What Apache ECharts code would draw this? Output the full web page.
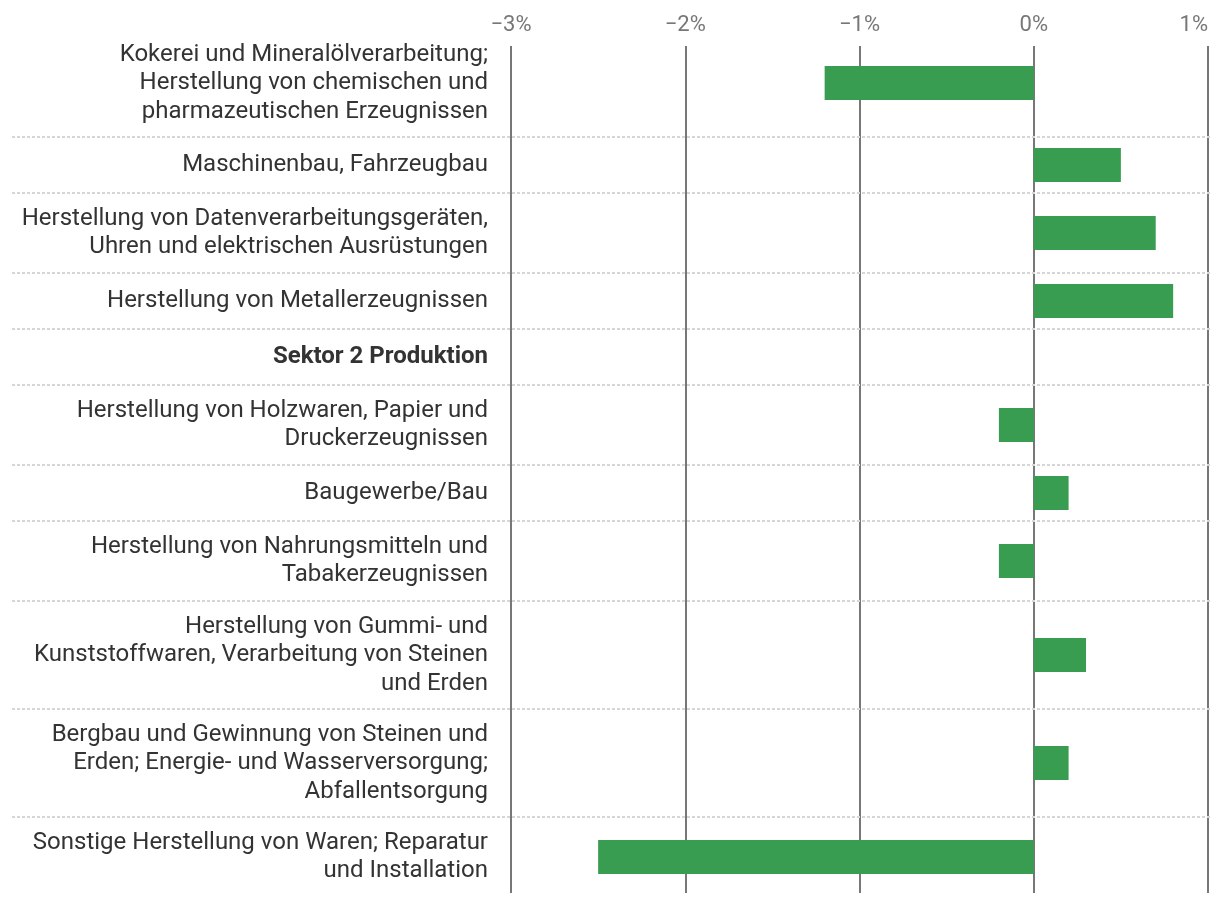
<!DOCTYPE html>
<html>
<head>
<meta charset="utf-8">
<title>Sektor 2 Produktion</title>
<script src="https://cdn.jsdelivr.net/npm/echarts@6/dist/echarts.min.js"></script>
<style>
  html, body { margin: 0; padding: 0; background: #fff; }
  #chart { width: 1220px; height: 904px; }
</style>
</head>
<body>
<div id="chart"></div>
<script>
// chart data
const categories = [
  'Kokerei und Mineralölverarbeitung;\nHerstellung von chemischen und\npharmazeutischen Erzeugnissen',
  'Maschinenbau, Fahrzeugbau',
  'Herstellung von Datenverarbeitungsgeräten,\nUhren und elektrischen Ausrüstungen',
  'Herstellung von Metallerzeugnissen',
  'Sektor 2 Produktion',
  'Herstellung von Holzwaren, Papier und\nDruckerzeugnissen',
  'Baugewerbe/Bau',
  'Herstellung von Nahrungsmitteln und\nTabakerzeugnissen',
  'Herstellung von Gummi- und\nKunststoffwaren, Verarbeitung von Steinen\nund Erden',
  'Bergbau und Gewinnung von Steinen und\nErden; Energie- und Wasserversorgung;\nAbfallentsorgung',
  'Sonstige Herstellung von Waren; Reparatur\nund Installation'
]
const values = [-1.2, 0.5, 0.7, 0.8, null, -0.2, 0.2, -0.2, 0.3, 0.2, -2.5]
const boldCategories = ['Sektor 2 Produktion']
const xMin = -3
const xMax = 1

// layout: row height depends on how many lines the label has
const rowHeightByLines = { 1: 56, 2: 80, 3: 108 }
const rowStart = []
const rowHeight = []
let total = 0
categories.forEach(c => {
  const h = rowHeightByLines[c.split('\n').length]
  rowStart.push(total)
  rowHeight.push(h)
  total += h
})

const rows = categories.map((c, i) => [values[i], rowStart[i] + rowHeight[i] / 2, i])

const chart = echarts.init(document.getElementById('chart'))

chart.setOption({
  animation: false,
  textStyle: { fontFamily: 'Roboto' },
  grid: {
    left: 511,
    right: 12,
    top: 46,
    bottom: 11,
    outerBoundsMode: 'none'
  },
  xAxis: {
    type: 'value',
    position: 'top',
    min: xMin,
    max: xMax,
    interval: 1,
    axisLine: { show: false },
    axisTick: { show: false },
    axisLabel: {
      color: '#777',
      fontSize: 22,
      margin: 10,
      alignMaxLabel: 'right',
      formatter: v => (v < 0 ? '\u2212' + Math.abs(v) : v) + '%'
    },
    splitLine: {
      lineStyle: { color: '#777', width: 2 }
    }
  },
  yAxis: {
    type: 'value',
    inverse: true,
    min: 17,
    max: total - 4,
    show: false
  },
  series: [{
    type: 'custom',
    clip: false,
    data: rows,
    renderItem(params, api) {
      const i = api.value(2)
      const cs = params.coordSys
      const center = api.coord([0, api.value(1)])
      const top = api.coord([0, rowStart[i]])
      const children = []
      if (i > 0) {
        children.push({
          type: 'line',
          shape: { x1: cs.x - 499, y1: top[1], x2: cs.x + cs.width + 4, y2: top[1] },
          style: { stroke: '#d6d6d6', lineWidth: 2, lineDash: [3, 2] }
        })
      }
      children.push({
        type: 'text',
        style: {
          text: categories[i],
          x: cs.x - 23,
          y: center[1],
          align: 'right',
          verticalAlign: 'middle',
          fill: '#333',
          fontFamily: 'Roboto',
          fontSize: 24,
          fontWeight: boldCategories.includes(categories[i]) ? 'bold' : 'normal',
          lineHeight: 28.5
        }
      })
      const v = values[i]
      if (v !== null) {
        const end = api.coord([v, api.value(1)])
        children.push({
          type: 'rect',
          shape: {
            x: Math.min(center[0], end[0]),
            y: center[1] - 17,
            width: Math.abs(end[0] - center[0]),
            height: 34
          },
          style: { fill: '#389d50' }
        })
      }
      return { type: 'group', children }
    }
  }]
})
</script>
</body>
</html>
